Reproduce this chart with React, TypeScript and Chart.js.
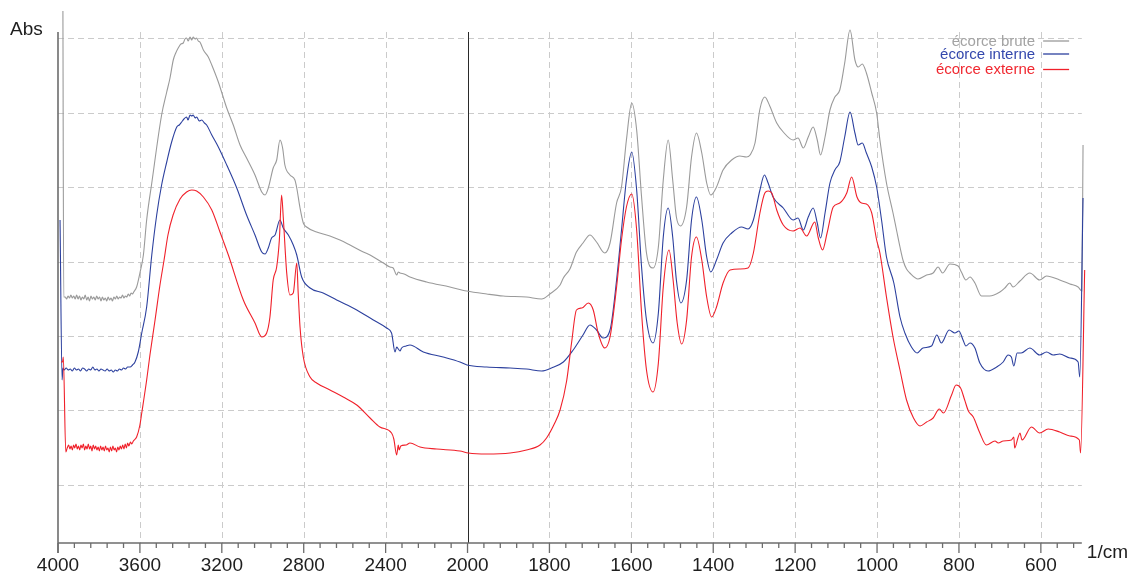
import React, { useEffect, useRef } from "react";
import { Chart, registerables } from "chart.js";

Chart.register(...registerables);

// ---------- DATA (wavenumber in 1/cm, absorbance in relative units) ----------
const seriesNames = ["écorce brute", "écorce interne", "écorce externe"];
const seriesColors = ["#9a9a9a", "#2c409e", "#f0202a"];
const legendTextColors = ["#a3a3a3", "#3448ad", "#f02830"];

const majorTicks = [4000, 3600, 3200, 2800, 2400, 2000, 1800, 1600, 1400, 1200, 1000, 800, 600];
const gridAbs = [58.3, 132.7, 207.1, 281.5, 355.9, 430.3, 504.7];
const axisEndWn = 500;
const axisTopAbs = 511;

const brute: [number, number][] = [
  [3976, 532], [3972, 246], [3965, 246], [3958, 244], [3951, 247], [3944, 245], [3937, 248], [3930, 245],
  [3923, 247], [3916, 244], [3909, 248], [3902, 244], [3895, 247], [3888, 243], [3881, 246], [3874, 244],
  [3867, 248], [3860, 243], [3853, 246], [3846, 242], [3839, 247], [3832, 244], [3825, 246], [3818, 243],
  [3811, 247], [3804, 244], [3797, 246], [3790, 242], [3783, 246], [3776, 243], [3769, 245], [3762, 242],
  [3755, 246], [3748, 243], [3741, 245], [3734, 242], [3727, 246], [3720, 244], [3713, 247], [3706, 244],
  [3699, 246], [3692, 245], [3685, 248], [3678, 245], [3671, 247], [3664, 246], [3657, 249], [3650, 247],
  [3643, 250], [3636, 249], [3630, 251], [3616, 256], [3600, 270], [3583, 288], [3567, 323], [3542, 360],
  [3494, 428], [3469, 451], [3453, 465], [3437, 483], [3425, 490], [3413, 495], [3400, 499], [3388, 500],
  [3380, 504], [3372, 505], [3364, 502], [3355, 506], [3347, 503], [3340, 506], [3330, 504], [3323, 505],
  [3315, 502], [3307, 501], [3298, 497], [3290, 493], [3266, 486], [3249, 478], [3217, 461], [3176, 435],
  [3144, 418], [3111, 398], [3079, 385], [3038, 368], [3005, 351], [2989, 348], [2973, 355], [2949, 375],
  [2932, 383], [2916, 403], [2903, 395], [2892, 378], [2867, 368], [2843, 363], [2834, 355], [2818, 335],
  [2802, 320], [2786, 316], [2737, 311], [2672, 307], [2623, 303], [2574, 298], [2509, 291], [2476, 288],
  [2411, 280], [2379, 276], [2363, 275], [2346, 268], [2338, 271], [2330, 270], [2310, 269], [2281, 266],
  [2200, 261], [2086, 256], [2004, 252], [1953, 249], [1913, 247], [1856, 246], [1819, 244], [1799, 249],
  [1774, 258], [1766, 265], [1750, 274], [1734, 291], [1718, 300], [1701, 308], [1685, 301], [1665, 290],
  [1652, 300], [1636, 340], [1624, 356], [1612, 403], [1599, 440], [1587, 413], [1575, 346], [1563, 290],
  [1547, 275], [1534, 296], [1522, 363], [1510, 403], [1499, 363], [1490, 326], [1480, 317], [1465, 336],
  [1453, 386], [1441, 410], [1428, 390], [1416, 360], [1406, 348], [1392, 356], [1376, 373], [1355, 383],
  [1335, 387], [1319, 386], [1310, 388], [1298, 400], [1286, 434], [1274, 446], [1262, 437], [1245, 420],
  [1229, 411], [1205, 403], [1193, 405], [1180, 395], [1168, 406], [1156, 416], [1146, 403], [1138, 388],
  [1127, 406], [1115, 433], [1103, 446], [1091, 453], [1079, 480], [1066, 513], [1054, 483], [1046, 476],
  [1036, 479], [1026, 470], [1013, 450], [1001, 430], [993, 403], [977, 360], [961, 330], [952, 312],
  [944, 296], [936, 282], [928, 274], [920, 270], [900, 264], [879, 268], [863, 270], [851, 276],
  [840, 270], [822, 279], [802, 277], [794, 271], [783, 263], [773, 266], [761, 260], [745, 247],
  [725, 247], [700, 251], [688, 255], [676, 260], [668, 256], [651, 262], [627, 270], [603, 263],
  [586, 267], [554, 263], [529, 259], [509, 256], [500, 252], [497, 398],
];

const interne: [number, number][] = [
  [3990, 323], [3980, 163], [3976, 175], [3970, 173], [3960, 175], [3950, 173], [3940, 174], [3930, 172],
  [3920, 175], [3910, 173], [3900, 174], [3890, 172], [3880, 175], [3870, 174], [3860, 172], [3850, 174],
  [3840, 173], [3830, 176], [3820, 173], [3810, 174], [3800, 172], [3790, 174], [3780, 173], [3770, 172],
  [3760, 174], [3750, 172], [3740, 173], [3730, 171], [3720, 173], [3710, 172], [3700, 174], [3690, 173],
  [3680, 175], [3670, 174], [3660, 176], [3648, 176], [3636, 178], [3624, 181], [3608, 191], [3591, 210],
  [3567, 236], [3542, 288], [3518, 328], [3494, 358], [3469, 381], [3445, 401], [3420, 416], [3408, 418],
  [3396, 421], [3385, 424], [3372, 426], [3365, 423], [3355, 428], [3347, 427], [3340, 428], [3330, 425],
  [3323, 426], [3310, 422], [3298, 423], [3285, 420], [3274, 418], [3249, 408], [3217, 396], [3176, 378],
  [3127, 355], [3079, 328], [3038, 308], [3005, 291], [2989, 289], [2973, 295], [2957, 305], [2940, 308],
  [2916, 323], [2900, 315], [2875, 308], [2851, 298], [2834, 288], [2810, 266], [2769, 255], [2705, 250],
  [2639, 243], [2541, 233], [2460, 223], [2395, 215], [2371, 210], [2354, 191], [2346, 196], [2338, 194],
  [2330, 192], [2322, 195], [2300, 197], [2281, 198], [2216, 191], [2119, 186], [2037, 181], [2003, 178],
  [1953, 176], [1896, 175], [1856, 174], [1819, 172], [1795, 175], [1766, 181], [1742, 193], [1718, 208],
  [1701, 218], [1685, 213], [1669, 205], [1652, 213], [1636, 263], [1624, 313], [1612, 363], [1599, 391],
  [1587, 353], [1575, 276], [1563, 223], [1547, 200], [1534, 230], [1522, 306], [1510, 335], [1499, 306],
  [1490, 263], [1479, 240], [1465, 263], [1453, 323], [1441, 346], [1428, 323], [1416, 286], [1406, 271],
  [1392, 283], [1376, 300], [1355, 310], [1331, 316], [1315, 314], [1302, 323], [1286, 353], [1275, 368],
  [1266, 360], [1254, 346], [1229, 335], [1205, 323], [1193, 325], [1180, 313], [1168, 326], [1156, 335],
  [1146, 320], [1138, 305], [1127, 330], [1115, 360], [1103, 373], [1091, 381], [1079, 406], [1066, 431],
  [1054, 410], [1046, 398], [1036, 400], [1026, 390], [1013, 376], [1001, 356], [989, 323], [977, 286],
  [959, 260], [944, 226], [932, 210], [916, 196], [902, 190], [888, 195], [867, 197], [854, 208],
  [843, 200], [824, 213], [810, 210], [800, 212], [790, 203], [783, 197], [773, 200], [761, 195],
  [749, 180], [729, 172], [708, 176], [692, 181], [680, 188], [672, 186], [666, 177], [658, 190],
  [648, 190], [627, 195], [603, 188], [586, 191], [570, 188], [554, 189], [529, 185], [509, 181],
  [505, 166], [497, 345],
];

const externe: [number, number][] = [
  [3985, 181], [3978, 181], [3974, 186], [3962, 91], [3955, 95], [3948, 98], [3942, 94], [3936, 97],
  [3930, 93], [3924, 98], [3918, 95], [3912, 99], [3906, 94], [3900, 97], [3894, 93], [3888, 98],
  [3882, 95], [3876, 99], [3870, 93], [3864, 97], [3858, 94], [3852, 99], [3846, 94], [3840, 97],
  [3834, 92], [3828, 98], [3822, 94], [3816, 97], [3810, 93], [3804, 96], [3798, 92], [3792, 97],
  [3786, 93], [3780, 96], [3774, 92], [3768, 97], [3762, 93], [3756, 95], [3750, 91], [3744, 96],
  [3738, 92], [3732, 97], [3726, 93], [3720, 95], [3714, 91], [3708, 96], [3702, 93], [3696, 97],
  [3690, 94], [3684, 98], [3678, 94], [3672, 99], [3666, 95], [3660, 100], [3654, 97], [3646, 101],
  [3640, 99], [3632, 102], [3616, 106], [3600, 118], [3591, 130], [3567, 163], [3551, 188], [3526, 223],
  [3502, 258], [3482, 283], [3463, 308], [3438, 328], [3404, 344], [3372, 351], [3347, 353], [3323, 352],
  [3290, 346], [3249, 333], [3209, 311], [3168, 288], [3095, 243], [3038, 220], [3005, 206], [2981, 210],
  [2965, 226], [2949, 263], [2932, 276], [2919, 303], [2908, 348], [2900, 326], [2883, 270], [2867, 248],
  [2851, 250], [2834, 280], [2827, 250], [2818, 216], [2802, 186], [2769, 166], [2737, 160], [2672, 153],
  [2607, 146], [2541, 138], [2476, 125], [2428, 116], [2371, 110], [2360, 104], [2346, 88], [2338, 98],
  [2334, 93], [2326, 97], [2300, 98], [2281, 100], [2232, 96], [2151, 94], [2037, 92], [1998, 90],
  [1953, 89], [1896, 90], [1856, 93], [1823, 98], [1807, 105], [1787, 120], [1774, 133], [1758, 162],
  [1746, 200], [1734, 233], [1721, 235], [1705, 240], [1693, 233], [1681, 210], [1665, 195], [1652, 206],
  [1636, 256], [1624, 303], [1612, 336], [1599, 349], [1587, 313], [1575, 230], [1563, 173], [1547, 151],
  [1534, 180], [1522, 256], [1508, 293], [1498, 263], [1488, 220], [1477, 199], [1465, 223], [1453, 286],
  [1441, 306], [1428, 283], [1416, 246], [1404, 226], [1392, 236], [1376, 260], [1359, 273], [1335, 274],
  [1315, 275], [1302, 290], [1286, 330], [1274, 350], [1266, 352], [1257, 350], [1245, 333], [1229, 318],
  [1205, 312], [1188, 315], [1172, 307], [1152, 321], [1144, 306], [1133, 293], [1122, 310], [1107, 336],
  [1091, 340], [1074, 350], [1062, 366], [1049, 346], [1038, 340], [1026, 339], [1013, 330], [1001, 303],
  [993, 290], [977, 246], [961, 206], [944, 173], [928, 143], [911, 125], [895, 117], [879, 121],
  [863, 125], [848, 134], [838, 130], [818, 148], [807, 158], [796, 155], [786, 143], [777, 132],
  [765, 126], [749, 110], [733, 98], [712, 102], [704, 100], [692, 102], [672, 103], [666, 106],
  [664, 95], [656, 105], [651, 110], [646, 103], [623, 116], [603, 110], [582, 114], [554, 111],
  [529, 107], [506, 103], [503, 90], [493, 273],
];

const spectra = [brute, interne, externe];

// Axis with a scale change at 2000 1/cm (left part compressed by 2)
const toPos = (w: number) => (w >= 2000 ? (4000 - w) / 2 : 1000 + (2000 - w));

const FONT = "'Liberation Sans', Arial, Helvetica, sans-serif";

const decorPlugin = {
  id: "ftirDecor",
  beforeDatasetsDraw(chart: any) {
    const { ctx } = chart;
    const xs = chart.scales.x;
    const ys = chart.scales.y;
    const xl = xs.getPixelForValue(toPos(4000));
    const xr = xs.getPixelForValue(toPos(axisEndWn));
    const yb = ys.getPixelForValue(0);
    const yt = ys.getPixelForValue(axisTopAbs);
    const line = (a: number, b: number, c: number, d: number) => {
      ctx.beginPath();
      ctx.moveTo(a, b);
      ctx.lineTo(c, d);
      ctx.stroke();
    };
    ctx.save();
    // dashed grid
    ctx.setLineDash([6, 4]);
    ctx.strokeStyle = "#cbcbcb";
    ctx.lineWidth = 1;
    for (const v of gridAbs) {
      const py = Math.round(ys.getPixelForValue(v)) + 0.5;
      line(xl, py, xr, py);
    }
    for (const w of majorTicks) {
      if (w === 4000 || w === 2000) continue;
      const px = Math.round(xs.getPixelForValue(toPos(w))) + 0.5;
      line(px, yt, px, yb);
    }
    ctx.setLineDash([]);
    // break line at 2000
    ctx.strokeStyle = "#2a2a2a";
    ctx.lineWidth = 1;
    const xb = Math.round(xs.getPixelForValue(toPos(2000))) + 0.5;
    line(xb, yt, xb, yb);
    // axes
    ctx.strokeStyle = "#6c6c6c";
    ctx.lineWidth = 1.6;
    line(xl, yt, xl, yb + 10);
    line(xl, yb, xr, yb);
    // ticks
    ctx.lineWidth = 1.3;
    const pEnd = toPos(axisEndWn);
    for (let p = 0; p <= pEnd; p += 40) {
      const px = xs.getPixelForValue(p);
      const major = p % 200 === 0;
      line(px, yb, px, yb + (major ? 10 : 5));
    }
    // tick labels
    ctx.fillStyle = "#1e1e1e";
    ctx.font = `19px ${FONT}`;
    ctx.textAlign = "center";
    ctx.textBaseline = "alphabetic";
    for (const w of majorTicks) {
      ctx.fillText(String(w), xs.getPixelForValue(toPos(w)), yb + 28);
    }
    ctx.textAlign = "left";
    ctx.fillText("1/cm", xr + 5, yb + 15);
    ctx.fillText("Abs", 10, yt + 3);
    ctx.restore();
  },
  afterDatasetsDraw(chart: any) {
    const { ctx } = chart;
    const xs = chart.scales.x;
    const ys = chart.scales.y;
    const xText = xs.getPixelForValue(toPos(614));
    const ya = ys.getPixelForValue(axisTopAbs);
    const offsets = [13.5, 26.5, 42];
    ctx.save();
    ctx.font = `15px ${FONT}`;
    ctx.textAlign = "right";
    ctx.textBaseline = "alphabetic";
    seriesNames.forEach((name, i) => {
      const base = ya + offsets[i];
      ctx.fillStyle = legendTextColors[i];
      ctx.fillText(name, xText, base);
      ctx.strokeStyle = seriesColors[i];
      ctx.lineWidth = 1.3;
      ctx.beginPath();
      ctx.moveTo(xText + 8, base - 4.5);
      ctx.lineTo(xText + 34, base - 4.5);
      ctx.stroke();
    });
    ctx.restore();
  },
};

export default function App() {
  const canvasRef = useRef<HTMLCanvasElement | null>(null);

  useEffect(() => {
    document.body.style.margin = "0";
    const canvas = canvasRef.current;
    if (!canvas) return;
    const datasets = spectra.map((s, i) => ({
      label: seriesNames[i],
      data: s.map(([w, a]) => ({ x: toPos(w), y: a })),
      borderColor: seriesColors[i],
      backgroundColor: seriesColors[i],
      borderWidth: 1.1,
      pointRadius: 0,
      fill: false,
      cubicInterpolationMode: "monotone" as const,
      order: 2 - i,
    }));
    const chart = new Chart(canvas, {
      type: "line",
      data: { datasets },
      options: {
        animation: false,
        responsive: false,
        maintainAspectRatio: false,
        parsing: true,
        layout: { padding: { left: 58, right: 40, top: 8, bottom: 32 } },
        plugins: { legend: { display: false }, tooltip: { enabled: false } },
        events: [],
        scales: {
          x: { type: "linear", min: 0, max: 2520, display: false },
          y: { type: "linear", min: 0, max: 535, display: false },
        },
      },
      plugins: [decorPlugin],
    });
    return () => chart.destroy();
  }, []);

  return (
    <div style={{ position: "fixed", left: 0, top: 0, width: 1130, height: 575, background: "#fff" }}>
      <canvas ref={canvasRef} width={1130} height={575} style={{ width: 1130, height: 575, display: "block" }} />
    </div>
  );
}
